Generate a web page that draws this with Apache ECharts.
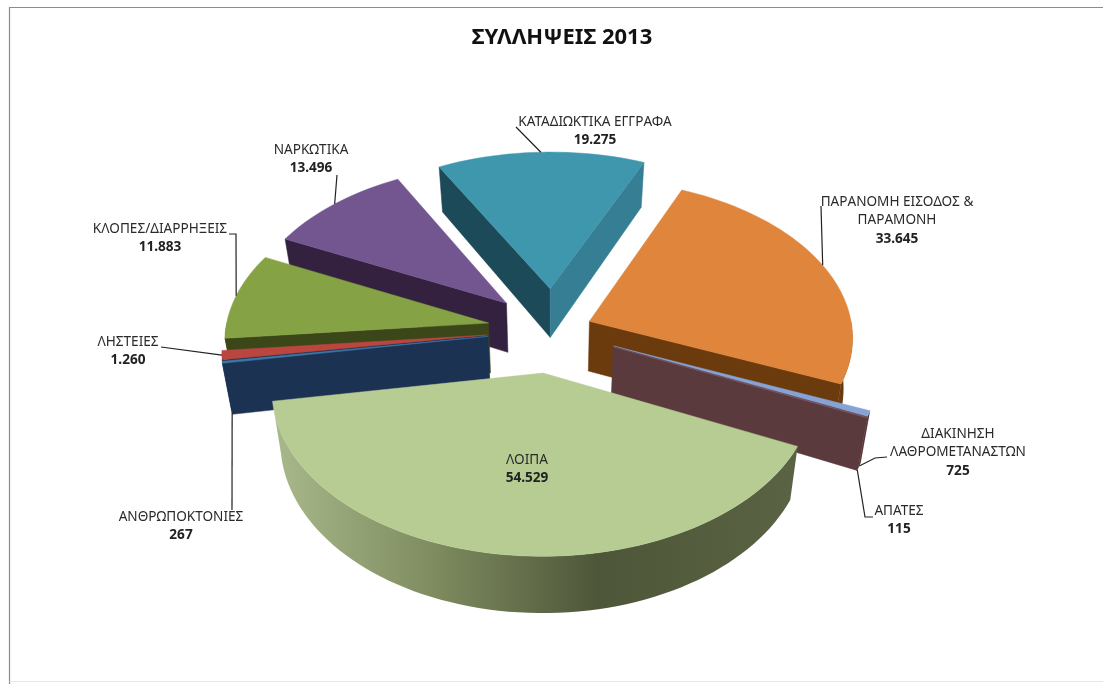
<!DOCTYPE html>
<html><head><meta charset="utf-8">
<style>html,body{margin:0;padding:0;background:#fff}#c{width:1103px;height:684px}</style>
<script src="https://cdn.jsdelivr.net/npm/echarts@6/dist/echarts.min.js"></script>
</head><body><div id="c"></div>
<script>
const categories = ['ΚΑΤΑΔΙΩΚΤΙΚΑ ΕΓΓΡΑΦΑ','ΠΑΡΑΝΟΜΗ ΕΙΣΟΔΟΣ &\nΠΑΡΑΜΟΝΗ','ΔΙΑΚΙΝΗΣΗ\nΛΑΘΡΟΜΕΤΑΝΑΣΤΩΝ','ΑΠΑΤΕΣ','ΛΟΙΠΑ','ΑΝΘΡΩΠΟΚΤΟΝΙΕΣ','ΛΗΣΤΕΙΕΣ','ΚΛΟΠΕΣ/ΔΙΑΡΡΗΞΕΙΣ','ΝΑΡΚΩΤΙΚΑ'];
const values = [19275,33645,725,115,54529,267,1260,11883,13496];
const topColors = ['#3f97ad','#df853c','#86a3d6','#7c5a6a','#b7cc92','#3f78a8','#bb4640','#85a344','#735690'];
const wallColors = ['#1c4a59','#6b3a0d','#5a3a3c','#5a3a3c','#5f6c47','#1b3253','#1b3253','#3b4718','#33213f'];
const endWallColors = ['#357e94','#6b3a0d','#5a3a3c','#5a3a3c','#5f6c47','#1b3253','#1b3253','#3b4718','#33213f'];
const explode = [0.27,0.15,0.25,0.25,0.27,0.25,0.25,0.25,0.25];
const drawRank = [2,3,6,7,8,5.5,5,4,1];
// label layout: centre x, first-line y, leader start and elbow
const labelCx = [595,897,958,899,527,181,128,160,311];
const labelY  = [122,202,434,511,460,517,342,229,150];
const leaderFrom = [[516,127],[821,206],[887,457],[873,517],null,[232,510],[161,347],[229,234],[337,175]];
const leaderElbow = [null,null,[875,458],[865,517],null,null,null,[236,234],null];
const leaderOnBottom = [0,0,1,1,0,1,0,0,0];

const startAngle = -28, cx = 553, cy = 330, R = 263, RK = 157, persp = 0.095, H = 50, converge = 0.03;
const total = values.reduce((a,b)=>a+b,0);
const rad = d => d*Math.PI/180;
function project(X,Z,down){
  const p=1/(1-persp*Z);
  const sx=cx+R*X*p;
  return down ? [cx+(sx-cx)*(1-converge), cy+RK*Z*p+H*p] : [sx, cy+RK*Z*p];
}
function fmt(v){return String(v).replace(/\B(?=(\d{3})+$)/g,'.');}

function renderItem(params, api){
  const i = params.dataIndex;
  let acc = 0; for(let k=0;k<i;k++) acc += values[k];
  const a0 = startAngle + acc/total*360, a1 = a0 + api.value(0)/total*360, mid=(a0+a1)/2;
  const ex = explode[i]*Math.sin(rad(mid)), ez = -explode[i]*Math.cos(rad(mid));
  const P = (deg,down)=>project(ex+Math.sin(rad(deg)), ez-Math.cos(rad(deg)), down);
  const apex = d=>project(ex,ez,d);
  const z2 = drawRank[i]*10, kids = [];
  const poly = (pts,fill,extra)=>kids.push({type:'polygon',z2:z2+(extra||0),shape:{points:pts},style:{fill,stroke:fill,lineWidth:0.5}});
  if(Math.sin(rad(a0))<0) poly([apex(0),P(a0,0),P(a0,1),apex(1)],wallColors[i],0);
  if(Math.sin(rad(a1))>0) poly([apex(0),P(a1,0),P(a1,1),apex(1)],endWallColors[i],1);
  const r0=Math.max(a0,90), r1=Math.min(a1,270);
  if(r1>r0){
    const up=[],dn=[]; const n=Math.max(2,Math.ceil((r1-r0)/2));
    for(let k=0;k<=n;k++){const d=r0+(r1-r0)*k/n; up.push(P(d,0)); dn.unshift(P(d,1));}
    const rimFill = i===4 ? {type:'linear',x:0,y:0,x2:1,y2:0,colorStops:[{offset:0,color:'#a9b98c'},{offset:0.3,color:'#7f8d60'},{offset:0.62,color:'#4e5639'},{offset:1,color:'#5a6343'}]} : wallColors[i];
    kids.push({type:'polygon',z2:z2+2,shape:{points:up.concat(dn)},style:{fill:rimFill}});
  }
  const top=[apex(0)]; const m=Math.max(1,Math.ceil((a1-a0)/2));
  for(let k=0;k<=m;k++) top.push(P(a0+(a1-a0)*k/m,0));
  poly(top,topColors[i],3);
  const anchor = P(mid, leaderOnBottom[i]);
  if(leaderFrom[i]){
    const pts=[leaderFrom[i]]; if(leaderElbow[i]) pts.push(leaderElbow[i]); pts.push(anchor);
    kids.push({type:'polyline',z2:200,shape:{points:pts},style:{fill:null,stroke:'#222',lineWidth:1.2}});
  }
  const lines = categories[i].split('\n'); let y = labelY[i];
  const lh = 18.5;
  lines.forEach(t=>{kids.push({type:'text',z2:210,style:{x:labelCx[i],y,text:t,fill:'#2a2a2a',font:'13.6px "Noto Sans"',align:'center',verticalAlign:'middle'}}); y+=lh;});
  kids.push({type:'text',z2:210,style:{x:labelCx[i],y,text:fmt(api.value(0)),fill:'#222',font:'bold 13.6px "Noto Sans"',align:'center',verticalAlign:'middle'}});
  return {type:'group',children:kids};
}

const chart = echarts.init(document.getElementById('c'));
chart.setOption({
  animation:false,
  backgroundColor:'#fff',
  title:{text:'ΣΥΛΛΗΨΕΙΣ 2013',left:557,top:22,textAlign:'center',textStyle:{fontFamily:'Noto Sans',fontWeight:'bold',fontSize:22,color:'#111'}},
  graphic:[
    {type:'polyline',shape:{points:[[9.5,684],[9.5,7.5],[1103,7.5]]},style:{stroke:'#8c8c8c',fill:null,lineWidth:1.2},silent:true},
    {type:'line',shape:{x1:9.5,y1:681.5,x2:1103,y2:681.5},style:{stroke:'#e6e6e6',lineWidth:1},silent:true}
  ],
  series:[{type:'custom',coordinateSystem:'none',silent:true,clip:false,renderItem,data:values.map(v=>[v]),encode:{value:0}}]
});
</script></body></html>
